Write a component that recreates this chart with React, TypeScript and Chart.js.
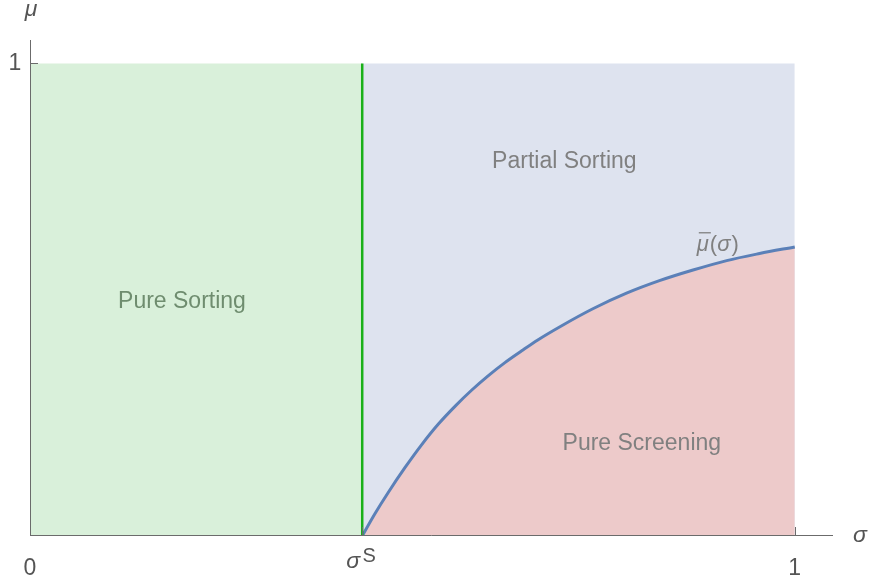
import React, { useEffect, useRef } from "react";
import { Chart, registerables } from "chart.js";

Chart.register(...registerables);

const sigmaS = 0.4344;
const curveX = [0.4344, 0.451, 0.468, 0.49, 0.512, 0.534, 0.556, 0.577, 0.599, 0.621, 0.643, 0.664, 0.693, 0.736, 0.78, 0.824, 0.867, 0.911, 0.954, 1.0];
const curveY = [0, 0.047, 0.091, 0.144, 0.193, 0.237, 0.275, 0.308, 0.339, 0.367, 0.392, 0.415, 0.443, 0.481, 0.514, 0.541, 0.563, 0.583, 0.598, 0.612];
const xTicks = [0, sigmaS, 1];
const xTickLabels = ["0", "σ", "1"];
const yTicks = [1];
const yTickLabels = ["1"];
const regionLabels = ["Pure Sorting", "Partial Sorting", "Pure Screening"];
const regionLabelPos = [
  [0.1987, 0.483],
  [0.6987, 0.7797],
  [0.8, 0.182],
];
const curveLabelPos = [0.8719, 0.6038];

const FONT = "'Liberation Sans', Arial, sans-serif";

const axesPlugin = {
  id: "customAxes",
  afterDatasetsDraw(chart: any) {
    const ctx = chart.ctx;
    const xs = chart.scales.x;
    const ys = chart.scales.y;
    const ca = chart.chartArea;
    const x0 = xs.getPixelForValue(0);
    const y0 = ys.getPixelForValue(0);
    ctx.save();
    ctx.strokeStyle = "#6b6b6b";
    ctx.lineWidth = 1;
    ctx.beginPath();
    ctx.moveTo(ca.left, Math.round(y0) - 0.5);
    ctx.lineTo(ca.right, Math.round(y0) - 0.5);
    ctx.moveTo(Math.round(x0) + 0.5, ca.top);
    ctx.lineTo(Math.round(x0) + 0.5, ca.bottom);
    ctx.stroke();
    // ticks
    ctx.beginPath();
    xTicks.forEach((v) => {
      const px = Math.round(xs.getPixelForValue(v)) + 0.5;
      ctx.moveTo(px, y0);
      ctx.lineTo(px, y0 - 9);
    });
    yTicks.forEach((v) => {
      const py = Math.round(ys.getPixelForValue(v)) - 0.5;
      ctx.moveTo(x0, py);
      ctx.lineTo(x0 + 8, py);
    });
    ctx.stroke();

    ctx.fillStyle = "#555555";
    ctx.textAlign = "center";
    ctx.textBaseline = "alphabetic";
    xTicks.forEach((v, i) => {
      const px = xs.getPixelForValue(v);
      if (i === 1) {
        ctx.font = `italic 23px ${FONT}`;
        ctx.fillText(xTickLabels[i], px - 9, y0 + 32);
        ctx.font = `20px ${FONT}`;
        ctx.fillText("S", px + 7, y0 + 26);
      } else {
        ctx.font = `23px ${FONT}`;
        ctx.fillText(xTickLabels[i], px, y0 + 39);
      }
    });
    ctx.font = `23px ${FONT}`;
    yTicks.forEach((v, i) => {
      const py = ys.getPixelForValue(v);
      ctx.fillText(yTickLabels[i], x0 - 15, py + 6);
    });
    // axis labels
    ctx.font = `italic 23px ${FONT}`;
    ctx.fillText("σ", ca.right + 27, y0 + 6);
    ctx.fillText("μ", x0 + 1, ca.top - 24);

    // region labels
    ctx.font = `23px ${FONT}`;
    regionLabels.forEach((t, i) => {
      const [vx, vy] = regionLabelPos[i];
      ctx.fillStyle = i === 0 ? "#6f8d6f" : "#808080";
      ctx.fillText(t, xs.getPixelForValue(vx), ys.getPixelForValue(vy));
    });

    // curve label mu-bar(sigma)
    const lx = xs.getPixelForValue(curveLabelPos[0]);
    const ly = ys.getPixelForValue(curveLabelPos[1]);
    ctx.fillStyle = "#808080";
    ctx.textAlign = "left";
    ctx.font = `italic 22px ${FONT}`;
    const muW = ctx.measureText("μ").width;
    ctx.fillText("μ", lx, ly);
    ctx.font = `22px ${FONT}`;
    const pW = ctx.measureText("(").width;
    ctx.fillText("(", lx + muW + 1, ly);
    ctx.font = `italic 22px ${FONT}`;
    const sW = ctx.measureText("σ").width;
    ctx.fillText("σ", lx + muW + 1 + pW, ly);
    ctx.font = `22px ${FONT}`;
    ctx.fillText(")", lx + muW + 1 + pW + sW + 1, ly);
    ctx.strokeStyle = "#808080";
    ctx.lineWidth = 1.3;
    ctx.beginPath();
    ctx.moveTo(lx + 2, ly - 18);
    ctx.lineTo(lx + muW + 2, ly - 18);
    ctx.stroke();
    ctx.restore();
  },
};

export default function App() {
  const ref = useRef<HTMLCanvasElement | null>(null);
  useEffect(() => {
    if (!ref.current) return;
    const chart = new Chart(ref.current, {
      type: "scatter",
      data: {
        datasets: [
          {
            label: "Pure Sorting region",
            data: [
              { x: 0, y: 1 },
              { x: sigmaS, y: 1 },
            ],
            showLine: true,
            fill: "origin",
            backgroundColor: "#d9f0da",
            borderWidth: 0,
            pointRadius: 0,
            order: 3,
          },
          {
            label: "Partial Sorting region",
            data: [
              { x: sigmaS, y: 1 },
              { x: 1, y: 1 },
            ],
            showLine: true,
            fill: "origin",
            backgroundColor: "#dee3ef",
            borderWidth: 0,
            pointRadius: 0,
            order: 4,
          },
          {
            label: "white edge",
            data: curveX.map((x, i) => ({ x, y: Math.max(0, curveY[i] - 0.005) })),
            showLine: true,
            fill: false,
            borderColor: "#ffffff",
            borderWidth: 1.2,
            pointRadius: 0,
            cubicInterpolationMode: "monotone",
            order: 2.5,
          },
          {
            label: "mu bar",
            data: curveX.map((x, i) => ({ x, y: curveY[i] })),
            showLine: true,
            fill: "origin",
            backgroundColor: "#edcaca",
            borderColor: "#5b80b8",
            borderWidth: 3,
            pointRadius: 0,
            cubicInterpolationMode: "monotone",
            order: 2,
          },
          {
            label: "sigma S",
            data: [
              { x: sigmaS, y: 0 },
              { x: sigmaS, y: 1 },
            ],
            showLine: true,
            fill: false,
            borderColor: "#19b019",
            borderWidth: 2.5,
            pointRadius: 0,
            order: 1,
          },
        ],
      },
      options: {
        animation: false,
        responsive: false,
        maintainAspectRatio: false,
        layout: { padding: { left: 30, top: 40, right: 38, bottom: 48 } },
        plugins: { legend: { display: false }, tooltip: { enabled: false } },
        scales: {
          x: { type: "linear", min: 0, max: 1.05, display: false },
          y: { type: "linear", min: 0, max: 1.05, display: false },
        },
      },
      plugins: [axesPlugin],
    });
    return () => chart.destroy();
  }, []);
  return (
    <div style={{ position: "absolute", left: 0, top: 0, width: 871, height: 584 }}>
      <canvas ref={ref} width={871} height={584} style={{ width: 871, height: 584, display: "block" }} />
    </div>
  );
}
